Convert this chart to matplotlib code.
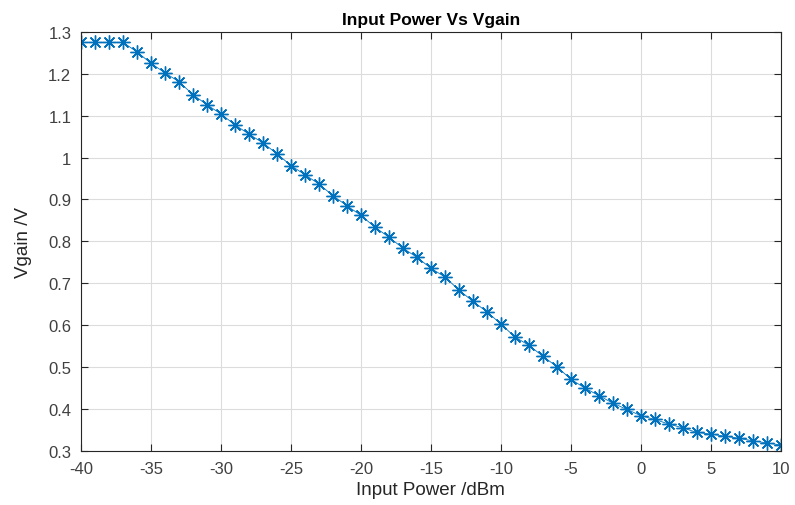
import matplotlib.pyplot as plt
import numpy as np
from matplotlib.ticker import FormatStrFormatter

plt.rcParams['font.family'] = ['Liberation Sans', 'DejaVu Sans']
plt.rcParams['axes.unicode_minus'] = False

power = list(range(-40, 11))
vgain = [1.275, 1.275, 1.275, 1.275, 1.252, 1.225, 1.202, 1.181, 1.150, 1.126,
         1.104, 1.078, 1.056, 1.035, 1.009, 0.981, 0.959, 0.937, 0.909, 0.885,
         0.862, 0.834, 0.810, 0.784, 0.762, 0.736, 0.715, 0.684, 0.657, 0.632,
         0.603, 0.572, 0.552, 0.526, 0.501, 0.471, 0.450, 0.432, 0.414, 0.399,
         0.384, 0.375, 0.364, 0.355, 0.344, 0.340, 0.335, 0.330, 0.324, 0.319,
         0.314]

fig = plt.figure(figsize=(7.95, 5.06), dpi=100)
ax = fig.add_axes([0.102, 0.107, 0.88, 0.828])

# matlab style asterisk: 8 spokes
ax.plot(power, vgain, color='#0072BD', marker=(8, 2, 0), markersize=10,
        markeredgewidth=1.0, linewidth=0.6)

ax.set_xlim(-40, 10)
ax.set_ylim(0.3, 1.3)
ax.set_xticks(np.arange(-40, 11, 5))
ax.set_yticks(np.arange(0.3, 1.31, 0.1))
ax.yaxis.set_major_formatter(FormatStrFormatter('%g'))
ax.grid(True, color='#dcdcdc', linewidth=0.8)
ax.set_axisbelow(True)
ax.tick_params(direction='in', top=True, right=True, labelsize=12,
               labelcolor='#404040', color='#262626', length=5)
ax.tick_params(axis='x', pad=7)
ax.tick_params(axis='y', pad=7)
for s in ax.spines.values():
    s.set_color('#262626')
    s.set_linewidth(0.8)

ax.set_title('Input Power Vs Vgain', fontsize=12.5, fontweight='bold', pad=6)
ax.set_xlabel('Input Power /dBm', fontsize=13.5, color='#262626', labelpad=4)
ax.set_ylabel('Vgain /V', fontsize=13.5, color='#262626', labelpad=12)

fig.savefig('out.png')
